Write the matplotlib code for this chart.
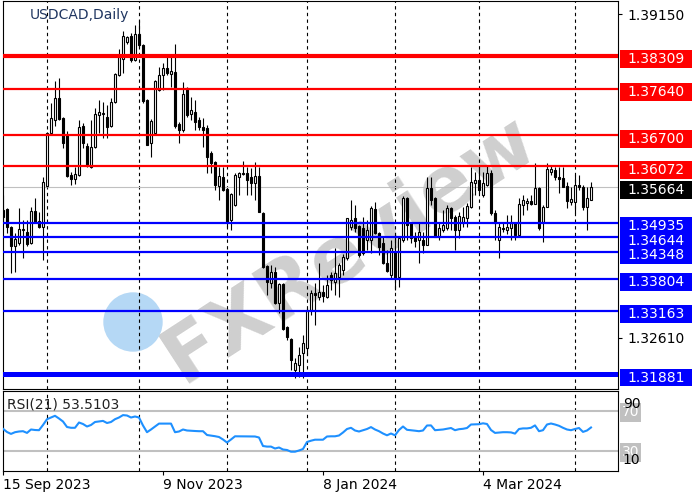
import matplotlib
matplotlib.use("Agg")
import matplotlib.pyplot as plt
import matplotlib.transforms as mtransforms
from matplotlib.patches import Rectangle, Ellipse

# USDCAD daily candles
opens = [1.3505, 1.3521, 1.3485, 1.3447, 1.3453, 1.3479, 1.3475, 1.3453, 1.3517, 1.3497,
         1.3485, 1.3568, 1.3675, 1.3701, 1.3746, 1.3705, 1.3671, 1.3590, 1.3582, 1.3590,
         1.3689, 1.3648, 1.3606, 1.3646, 1.3711, 1.3714, 1.3707, 1.3689, 1.3737, 1.3792,
         1.3824, 1.3858, 1.3871, 1.3822, 1.3875, 1.3852, 1.3741, 1.3654, 1.3675, 1.3762,
         1.3792, 1.3806, 1.3794, 1.3798, 1.3693, 1.3681, 1.3766, 1.3713, 1.3717, 1.3701,
         1.3687, 1.3685, 1.3634, 1.3616, 1.3568, 1.3586, 1.3562, 1.3499, 1.3529, 1.3586,
         1.3594, 1.3594, 1.3586, 1.3574, 1.3588, 1.3513, 1.3406, 1.3372, 1.3394, 1.3332,
         1.3370, 1.3283, 1.3259, 1.3196, 1.3206, 1.3231, 1.3241, 1.3317, 1.3352, 1.3344,
         1.3354, 1.3344, 1.3388, 1.3374, 1.3384, 1.3398, 1.3422, 1.3485, 1.3503, 1.3487,
         1.3483, 1.3459, 1.3459, 1.3521, 1.3473, 1.3453, 1.3412, 1.3388, 1.3434, 1.3384,
         1.3459, 1.3544, 1.3493, 1.3465, 1.3459, 1.3459, 1.3449, 1.3564, 1.3544, 1.3465,
         1.3479, 1.3483, 1.3523, 1.3505, 1.3479, 1.3493, 1.3503, 1.3525, 1.3574, 1.3580,
         1.3550, 1.3570, 1.3594, 1.3513, 1.3459, 1.3483, 1.3479, 1.3483, 1.3493, 1.3469,
         1.3529, 1.3534, 1.3538, 1.3531, 1.3564, 1.3495, 1.3525, 1.3596, 1.3600, 1.3586,
         1.3584, 1.3568, 1.3536, 1.3536, 1.3570, 1.3566, 1.3525, 1.3540]
highs = [1.3550, 1.3523, 1.3487, 1.3473, 1.3523, 1.3499, 1.3499, 1.3525, 1.3544, 1.3515,
         1.3586, 1.3677, 1.3735, 1.3780, 1.3786, 1.3707, 1.3679, 1.3596, 1.3606, 1.3701,
         1.3695, 1.3654, 1.3701, 1.3725, 1.3741, 1.3737, 1.3731, 1.3746, 1.3796, 1.3844,
         1.3881, 1.3871, 1.3877, 1.3893, 1.3903, 1.3854, 1.3743, 1.3703, 1.3782, 1.3808,
         1.3816, 1.3832, 1.3828, 1.3854, 1.3697, 1.3778, 1.3768, 1.3748, 1.3741, 1.3707,
         1.3705, 1.3691, 1.3638, 1.3618, 1.3606, 1.3606, 1.3564, 1.3554, 1.3594, 1.3596,
         1.3618, 1.3606, 1.3604, 1.3616, 1.3606, 1.3515, 1.3408, 1.3408, 1.3404, 1.3372,
         1.3372, 1.3285, 1.3261, 1.3221, 1.3243, 1.3267, 1.3321, 1.3358, 1.3372, 1.3412,
         1.3368, 1.3388, 1.3394, 1.3443, 1.3412, 1.3430, 1.3503, 1.3540, 1.3529, 1.3489,
         1.3505, 1.3499, 1.3527, 1.3536, 1.3475, 1.3465, 1.3439, 1.3459, 1.3469, 1.3467,
         1.3548, 1.3546, 1.3495, 1.3475, 1.3493, 1.3475, 1.3586, 1.3586, 1.3546, 1.3493,
         1.3519, 1.3529, 1.3525, 1.3509, 1.3515, 1.3525, 1.3534, 1.3606, 1.3596, 1.3610,
         1.3596, 1.3608, 1.3600, 1.3519, 1.3493, 1.3493, 1.3509, 1.3509, 1.3495, 1.3544,
         1.3550, 1.3544, 1.3550, 1.3614, 1.3566, 1.3529, 1.3614, 1.3610, 1.3606, 1.3606,
         1.3606, 1.3576, 1.3566, 1.3590, 1.3590, 1.3570, 1.3566, 1.3576]
lows = [1.3495, 1.3473, 1.3392, 1.3394, 1.3449, 1.3422, 1.3447, 1.3451, 1.3493, 1.3483,
        1.3418, 1.3566, 1.3671, 1.3689, 1.3701, 1.3644, 1.3586, 1.3570, 1.3572, 1.3588,
        1.3644, 1.3606, 1.3604, 1.3644, 1.3675, 1.3665, 1.3665, 1.3687, 1.3735, 1.3790,
        1.3796, 1.3855, 1.3818, 1.3820, 1.3848, 1.3735, 1.3650, 1.3626, 1.3673, 1.3760,
        1.3762, 1.3792, 1.3768, 1.3685, 1.3654, 1.3677, 1.3707, 1.3701, 1.3681, 1.3681,
        1.3646, 1.3594, 1.3594, 1.3560, 1.3540, 1.3558, 1.3485, 1.3479, 1.3527, 1.3550,
        1.3590, 1.3550, 1.3550, 1.3540, 1.3515, 1.3402, 1.3348, 1.3362, 1.3330, 1.3311,
        1.3277, 1.3257, 1.3196, 1.3180, 1.3182, 1.3180, 1.3227, 1.3307, 1.3287, 1.3338,
        1.3334, 1.3342, 1.3358, 1.3348, 1.3344, 1.3388, 1.3418, 1.3479, 1.3475, 1.3424,
        1.3428, 1.3439, 1.3432, 1.3471, 1.3428, 1.3410, 1.3394, 1.3382, 1.3358, 1.3364,
        1.3455, 1.3459, 1.3453, 1.3445, 1.3412, 1.3432, 1.3449, 1.3529, 1.3465, 1.3459,
        1.3475, 1.3479, 1.3479, 1.3439, 1.3463, 1.3485, 1.3485, 1.3523, 1.3550, 1.3554,
        1.3546, 1.3568, 1.3509, 1.3459, 1.3422, 1.3475, 1.3471, 1.3459, 1.3459, 1.3465,
        1.3509, 1.3519, 1.3529, 1.3531, 1.3479, 1.3455, 1.3525, 1.3590, 1.3580, 1.3554,
        1.3566, 1.3523, 1.3529, 1.3513, 1.3560, 1.3519, 1.3479, 1.3540]
closes = [1.3519, 1.3485, 1.3447, 1.3461, 1.3481, 1.3481, 1.3451, 1.3517, 1.3495, 1.3485,
          1.3576, 1.3675, 1.3705, 1.3746, 1.3703, 1.3654, 1.3588, 1.3582, 1.3592, 1.3687,
          1.3654, 1.3610, 1.3646, 1.3713, 1.3717, 1.3715, 1.3687, 1.3737, 1.3794, 1.3828,
          1.3871, 1.3869, 1.3822, 1.3875, 1.3852, 1.3739, 1.3650, 1.3699, 1.3780, 1.3792,
          1.3806, 1.3796, 1.3800, 1.3689, 1.3681, 1.3754, 1.3711, 1.3721, 1.3697, 1.3687,
          1.3681, 1.3626, 1.3614, 1.3570, 1.3588, 1.3560, 1.3495, 1.3552, 1.3590, 1.3594,
          1.3592, 1.3580, 1.3574, 1.3588, 1.3515, 1.3404, 1.3374, 1.3394, 1.3332, 1.3370,
          1.3279, 1.3263, 1.3217, 1.3210, 1.3227, 1.3251, 1.3317, 1.3352, 1.3348, 1.3354,
          1.3346, 1.3368, 1.3378, 1.3392, 1.3408, 1.3424, 1.3503, 1.3499, 1.3483, 1.3428,
          1.3432, 1.3479, 1.3523, 1.3473, 1.3445, 1.3412, 1.3396, 1.3443, 1.3382, 1.3463,
          1.3544, 1.3489, 1.3463, 1.3457, 1.3475, 1.3449, 1.3564, 1.3540, 1.3465, 1.3483,
          1.3489, 1.3523, 1.3503, 1.3479, 1.3507, 1.3505, 1.3527, 1.3576, 1.3580, 1.3560,
          1.3574, 1.3594, 1.3513, 1.3493, 1.3485, 1.3481, 1.3485, 1.3493, 1.3469, 1.3531,
          1.3540, 1.3538, 1.3531, 1.3564, 1.3483, 1.3525, 1.3602, 1.3602, 1.3586, 1.3582,
          1.3566, 1.3538, 1.3542, 1.3570, 1.3566, 1.3525, 1.3544, 1.35664]

rsi = [52.2, 49.0, 47.1, 48.8, 49.5, 49.8, 48.1, 51.5, 51.0, 50.8,
       56.0, 61.8, 63.5, 65.2, 62.5, 59.5, 54.0, 53.2, 53.2, 58.5,
       57.0, 54.5, 56.0, 59.0, 59.5, 60.1, 58.0, 59.0, 61.8, 63.5,
       65.9, 65.5, 63.5, 64.5, 63.5, 55.5, 48.8, 51.5, 54.5, 57.4,
       57.4, 57.4, 57.4, 48.8, 49.5, 51.5, 50.5, 50.2, 50.0, 49.8,
       49.8, 46.0, 45.4, 44.8, 44.0, 41.5, 38.5, 41.5, 44.7, 44.7,
       44.7, 44.6, 44.5, 44.5, 43.5, 35.0, 34.4, 34.4, 32.5, 33.5,
       31.5, 31.0, 29.3, 29.3, 30.5, 32.0, 39.0, 40.3, 41.3, 41.3,
       41.3, 44.5, 44.7, 44.7, 45.5, 48.5, 52.0, 53.2, 50.5, 49.5,
       50.8, 52.0, 53.9, 51.5, 49.8, 47.5, 45.7, 47.5, 45.7, 51.0,
       54.5, 51.2, 50.8, 50.3, 49.8, 50.5, 55.5, 55.6, 50.8, 51.2,
       51.5, 52.2, 53.0, 50.8, 51.8, 52.2, 53.0, 56.5, 56.7, 56.8,
       57.7, 57.0, 51.0, 48.1, 48.5, 48.8, 48.8, 48.6, 47.4, 52.0,
       52.6, 52.6, 53.2, 55.6, 49.8, 50.8, 56.5, 57.5, 56.5, 55.2,
       53.2, 51.5, 50.8, 52.0, 53.0, 49.1, 50.5, 53.5103]

date_ticks = [0, 40, 80, 120]
date_labels = ['15 Sep 2023', '9 Nov 2023', '8 Jan 2024', '4 Mar 2024']
month_starts = [11, 34, 56, 76, 98, 119, 143]

resistance = [1.38309, 1.37640, 1.36700, 1.36072]
support = [1.34935, 1.34644, 1.34348, 1.33804, 1.33163, 1.31881]
last_price = 1.35664
price_ticks = [1.39150, 1.32610]
rsi_levels = [70, 30]
rsi_bounds = [10, 90]

fig = plt.figure(figsize=(7, 5), dpi=100)
ax = fig.add_axes([2.5 / 700, 111 / 500, 615.5 / 700, 388 / 500])
ax_r = fig.add_axes([2.5 / 700, 29 / 500, 615.5 / 700, 80 / 500])

xlim = (-0.125, 153.75)
for a in (ax, ax_r):
    a.set_xlim(*xlim)
    for s in a.spines.values():
        s.set_linewidth(0.8)
        s.set_color('black')
    for m in month_starts:
        a.axvline(m, color='black', lw=0.8, ls=(0, (3, 3)), zorder=1)

ax.set_ylim(1.31579, 1.39413)

# watermark
ax.text(350 / 700, 1 - 248 / 500, 'FXReview', transform=fig.transFigure,
        rotation=33, fontsize=56, fontweight='bold', color='#cfcfcf',
        ha='center', va='center', zorder=0.5)
ax.add_patch(Ellipse((133 / 700, 1 - 322 / 500), 58 / 700, 58 / 500,
                     transform=fig.transFigure, color='#b5d8f5', zorder=0.5))

ax.axhline(last_price, color='#c0c0c0', lw=0.8, zorder=1.5)

# candles
for i in range(len(closes)):
    o, h, l, c = opens[i], highs[i], lows[i], closes[i]
    ax.vlines(i, l, h, color='black', lw=0.8, zorder=2)
    bottom = min(o, c)
    height = max(abs(c - o), 0.00005)
    face = 'white' if c >= o else 'black'
    ax.add_patch(Rectangle((i - 0.3, bottom), 0.6, height, facecolor=face,
                           edgecolor='black', lw=0.8, zorder=2.5))

for lvl in resistance:
    ax.axhline(lvl, color='#ff0000', lw=3.0 if lvl == resistance[0] else 1.6, zorder=3)
for lvl in support:
    ax.axhline(lvl, color='#0000ff', lw=3.6 if lvl == support[-1] else 1.6, zorder=3)

ax.set_xticks([])
ax.yaxis.tick_right()
ax.set_yticks(price_ticks, [f'{p:.5f}' for p in price_ticks])
ax.tick_params(axis='y', length=3, width=0.8, pad=4, labelsize=10)

trans = mtransforms.blended_transform_factory(ax.transAxes, ax.transData)
shift = 0.0007
box_h = 0.00363


def price_label(price, bg, fg='white'):
    ax.add_patch(Rectangle((1.0033, price - shift - box_h / 2), 0.117, box_h,
                           transform=trans, facecolor=bg, edgecolor='none',
                           clip_on=False, zorder=5))
    ax.text(1.0146, price - shift, f'{price:.5f}', transform=trans, color=fg,
            fontsize=10, ha='left', va='center', clip_on=False, zorder=6)


for lvl in resistance:
    price_label(lvl, '#ff0000')
price_label(last_price, 'black')
for lvl in support:
    price_label(lvl, '#0000ff')

ax.text(27 / 615.5, 1 - 14 / 388, 'USDCAD,Daily', transform=ax.transAxes,
        fontsize=10, color='#1f3560', ha='left', va='center', zorder=6)

# RSI panel
ax_r.set_ylim(*rsi_bounds)
for lvl in rsi_levels:
    ax_r.axhline(lvl, color='#c0c0c0', lw=1.5, zorder=1.5)
ax_r.plot(range(len(rsi)), rsi, color='#1e90ff', lw=1.5, zorder=3)
ax_r.text(0.008, 0.825, f'RSI(21) {rsi[-1]:.4f}', transform=ax_r.transAxes,
          fontsize=10, color='#202020', ha='left', va='center')
ax_r.set_yticks([])

rtrans = mtransforms.blended_transform_factory(ax_r.transAxes, ax_r.transData)
for lvl in rsi_levels:
    ax_r.add_patch(Rectangle((1.0033, lvl - 10.5), 0.034, 19, transform=rtrans,
                             facecolor='#c0c0c0', edgecolor='none', clip_on=False, zorder=4))
    ax_r.text(1.0033 + 0.017, lvl - 1.5, str(lvl), transform=rtrans, color='white',
              fontsize=10, ha='center', va='center', clip_on=False, zorder=5)
ax_r.text(1.008, rsi_bounds[1] - 12.5, str(rsi_bounds[1]), transform=rtrans,
          fontsize=10, ha='left', va='center', clip_on=False, zorder=6)
ax_r.text(1.008, rsi_bounds[0] + 11, str(rsi_bounds[0]), transform=rtrans,
          fontsize=10, ha='left', va='center', clip_on=False, zorder=6)

ax_r.set_xticks(date_ticks, date_labels)
ax_r.tick_params(axis='x', length=3, width=0.8, pad=2, labelsize=10)
for lbl in ax_r.get_xticklabels():
    lbl.set_horizontalalignment('left')

fig.savefig('out.png', dpi=100)
